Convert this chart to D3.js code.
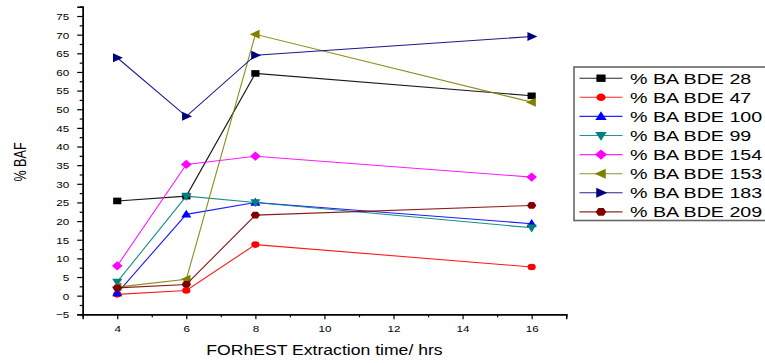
<!DOCTYPE html>
<html>
<head>
<meta charset="utf-8">
<script src="https://cdn.jsdelivr.net/npm/d3@7"></script>
<style>
  html, body { margin: 0; padding: 0; background: #fff; }
  svg { display: block; font-family: "Liberation Sans", Arial, sans-serif; }
</style>
</head>
<body>
<svg id="chart" width="765" height="363"></svg>
<script>
// Extraction times (hrs)
const hours = [4, 6, 8, 16];

// % bioaccessible fraction per congener
const bde28  = [25.4, 26.7, 59.6, 53.6];
const bde47  = [0.35, 1.4, 13.7, 7.7];
const bde100 = [0.7, 21.8, 25.0, 19.3];
const bde99  = [3.7, 26.7, 25.0, 18.2];
const bde154 = [8.0, 35.2, 37.4, 31.8];
const bde153 = [2.3, 4.4, 70.1, 51.9];
const bde183 = [63.8, 48.1, 64.5, 69.5];
const bde209 = [2.1, 3.0, 21.6, 24.2];

const seriesNames = ["% BA BDE 28", "% BA BDE 47", "% BA BDE 100", "% BA BDE 99",
                     "% BA BDE 154", "% BA BDE 153", "% BA BDE 183", "% BA BDE 209"];
const seriesValues = [bde28, bde47, bde100, bde99, bde154, bde153, bde183, bde209];
const seriesColors = ["#000000", "#ff0000", "#0000ff", "#008080",
                      "#ff00ff", "#808000", "#000080", "#800000"];
const seriesShapes = ["square", "circle", "triUp", "triDown",
                      "diamond", "triLeft", "triRight", "hexagon"];

const yMajorTicks = d3.range(-5, 76, 5);
const yMinorTicks = d3.range(-2.5, 78, 5);
const xMajorTicks = [4, 6, 8, 10, 12, 14, 16];
const xMinorTicks = [3, 5, 7, 9, 11, 13, 15, 17];

// text and markers are drawn slightly wider than tall
const SX = 1.24;

const svg = d3.select("#chart");
const x = d3.scaleLinear().domain([3, 17]).range([82.7, 566.2]);
const y = d3.scaleLinear().domain([-5, 77.5]).range([314.3, 6.7]);

function shapePath(type, k) {
  const s = k || 1;
  const pts = {
    square:   [[-3.3, -3.3], [3.3, -3.3], [3.3, 3.3], [-3.3, 3.3]],
    triUp:    [[0, -4.6], [4.1, 3.2], [-4.1, 3.2]],
    triDown:  [[0, 4.6], [4.1, -3.2], [-4.1, -3.2]],
    triLeft:  [[-4.6, 0], [3.4, -4.5], [3.4, 4.5]],
    triRight: [[4.6, 0], [-3.4, -4.5], [-3.4, 4.5]],
    diamond:  [[0, -4.6], [4.3, 0], [0, 4.6], [-4.3, 0]],
    hexagon:  [[-3.8, 0], [-1.9, -3.4], [1.9, -3.4], [3.8, 0], [1.9, 3.4], [-1.9, 3.4]]
  };
  if (type === "circle") {
    const r = 3.3 * s;
    return `M${-r},0A${r},${r} 0 1,0 ${r},0A${r},${r} 0 1,0 ${-r},0Z`;
  }
  return "M" + pts[type].map(p => (p[0] * s).toFixed(2) + "," + (p[1] * s).toFixed(2)).join("L") + "Z";
}

// axes
const yMinor = d3.axisLeft(y).tickValues(yMinorTicks).tickSize(3).tickFormat("");
const yMajor = d3.axisLeft(y).tickValues(yMajorTicks).tickSize(5.5).tickFormat(d3.format("d"));
const xMinor = d3.axisBottom(x).tickValues(xMinorTicks).tickSize(3).tickFormat("");
const xMajor = d3.axisBottom(x).tickValues(xMajorTicks).tickSize(5).tickFormat(d3.format("d"));

function styleAxis(g) {
  g.select(".domain").attr("stroke", "#000").attr("stroke-width", 1.4);
  g.selectAll(".tick line").attr("stroke", "#000").attr("stroke-width", 1.2);
}

svg.append("g").attr("transform", `translate(${x.range()[0]},0)`).call(yMinor).call(styleAxis);
const gy = svg.append("g").attr("transform", `translate(${x.range()[0]},0)`).call(yMajor).call(styleAxis);
gy.selectAll(".tick text")
  .attr("x", 0).attr("dy", "0.36em")
  .attr("text-anchor", "end")
  .attr("transform", `translate(-13.5,0) scale(${SX},1)`)
  .attr("font-size", 9.4).attr("font-family", "Liberation Sans, Arial, sans-serif")
  .attr("fill", "#000");

svg.append("g").attr("transform", `translate(0,${y.range()[0]})`).call(xMinor).call(styleAxis);
const gx = svg.append("g").attr("transform", `translate(0,${y.range()[0]})`).call(xMajor).call(styleAxis);
gx.selectAll(".tick text")
  .attr("y", 0).attr("dy", 0)
  .attr("text-anchor", "middle")
  .attr("transform", `translate(0,17.4) scale(${SX},1)`)
  .attr("font-size", 9.4).attr("font-family", "Liberation Sans, Arial, sans-serif")
  .attr("fill", "#000");

// axis titles
svg.append("text")
  .attr("transform", `translate(${(x.range()[0] + x.range()[1]) / 2},355) scale(${SX},1)`)
  .attr("text-anchor", "middle")
  .attr("font-size", 14.2)
  .attr("fill", "#000")
  .text("FORhEST Extraction time/ hrs");

svg.append("text")
  .attr("transform", `translate(25.6,162) scale(${SX},1) rotate(-90)`)
  .attr("text-anchor", "middle")
  .attr("font-size", 12.6)
  .attr("fill", "#000")
  .text("% BAF");

// series lines and markers
const line = d3.line().x((d, i) => x(hours[i])).y(d => y(d));

seriesValues.forEach((vals, si) => {
  const g = svg.append("g");
  g.append("path")
    .attr("d", line(vals))
    .attr("fill", "none")
    .attr("stroke", seriesColors[si])
    .attr("stroke-width", 1.1)
    .attr("stroke-opacity", 0.9);
  g.selectAll("path.mk")
    .data(vals)
    .join("path")
    .attr("class", "mk")
    .attr("d", shapePath(seriesShapes[si], 1))
    .attr("transform", (d, i) => `translate(${x(hours[i])},${y(d)}) scale(${SX},1)`)
    .attr("fill", seriesColors[si]);
});

// legend
const legend = svg.append("g");
legend.append("rect")
  .attr("x", 574).attr("y", 67)
  .attr("width", 200).attr("height", 153.5)
  .attr("fill", "#fff")
  .attr("stroke", "#666")
  .attr("stroke-width", 1.6);

seriesNames.forEach((name, si) => {
  const cy = 78.2 + si * 19.1;
  legend.append("line")
    .attr("x1", 579.5).attr("x2", 622.5)
    .attr("y1", cy).attr("y2", cy)
    .attr("stroke", seriesColors[si])
    .attr("stroke-width", 1.1)
    .attr("stroke-opacity", 0.85);
  legend.append("path")
    .attr("d", shapePath(seriesShapes[si], 1.12))
    .attr("transform", `translate(601,${cy}) scale(${SX},1)`)
    .attr("fill", seriesColors[si]);
  legend.append("text")
    .attr("transform", `translate(630,${cy}) scale(${SX * 1.03},1)`)
    .attr("dy", "0.36em")
    .attr("font-size", 15.4)
    .attr("fill", "#000")
    .text(name);
});
</script>
</body>
</html>
